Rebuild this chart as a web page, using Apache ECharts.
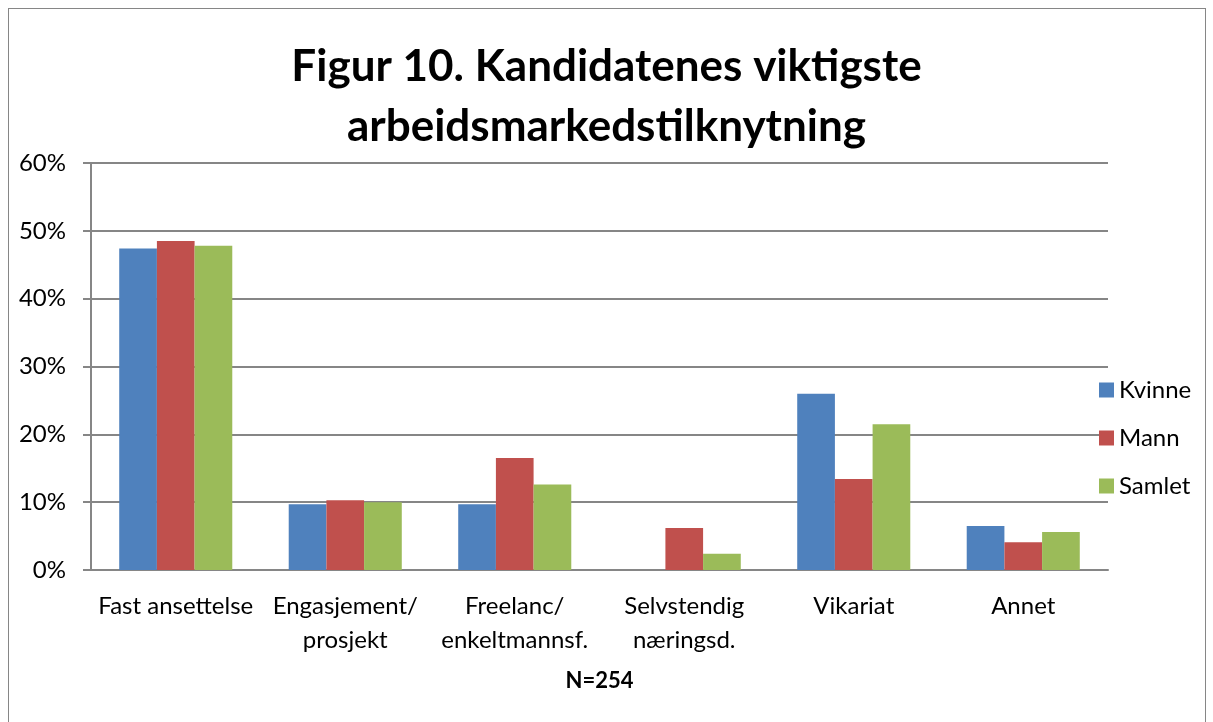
<!DOCTYPE html>
<html>
<head>
<meta charset="utf-8">
<script src="https://cdn.jsdelivr.net/npm/echarts@6/dist/echarts.min.js"></script>
<style>
  html, body { margin: 0; padding: 0; background: #fff; }
  .frame {
    position: absolute; left: 8px; top: 8px;
    width: 1196px; height: 740px;
    border: 1.5px solid #868686;
  }
  #chart { position: absolute; left: 0; top: 0; width: 1213px; height: 722px; }
</style>
</head>
<body>
<div class="frame"></div>
<div id="chart"></div>
<script>
const categories = ['Fast ansettelse', 'Engasjement/\nprosjekt', 'Freelanc/\nenkeltmannsf.', 'Selvstendig\nnæringsd.', 'Vikariat', 'Annet']
const kvinne = [47.4, 9.7, 9.7, 0, 26.0, 6.5]
const mann = [48.5, 10.3, 16.5, 6.2, 13.4, 4.1]
const samlet = [47.8, 10.0, 12.6, 2.4, 21.5, 5.6]
const yTicks = { min: 0, max: 60, interval: 10 }

const font = 'Lato, "Open Sans", sans-serif'
const chart = echarts.init(document.getElementById('chart'))

const bar = (name, data, color) => ({
  name: name,
  type: 'bar',
  data: data,
  barGap: 0,
  barCategoryGap: '33.3%',
  itemStyle: { color: color }
})

const option = {
  animation: false,
  textStyle: { fontFamily: font },
  title: {
    text: 'Figur 10. Kandidatenes viktigste\narbeidsmarkedstilknytning',
    left: 'center',
    top: 32,
    textStyle: {
      fontFamily: font,
      fontSize: 44,
      fontWeight: 'bold',
      color: '#000',
      lineHeight: 60
    }
  },
  legend: {
    orient: 'vertical',
    left: 1094,
    top: 373,
    itemWidth: 15,
    itemHeight: 15,
    itemGap: 24,
    icon: 'rect',
    textStyle: { fontSize: 24, color: '#000', fontFamily: font }
  },
  grid: {
    left: 91,
    right: 105,
    top: 163,
    bottom: 152
  },
  xAxis: {
    type: 'category',
    data: categories,
    name: 'N=254',
    nameLocation: 'middle',
    nameGap: 100,
    nameTextStyle: { fontSize: 22, fontWeight: 'bold', color: '#000', fontFamily: font },
    axisLine: { lineStyle: { color: '#868686', width: 2 } },
    axisTick: { show: false },
    axisLabel: {
      interval: 0,
      fontSize: 24,
      color: '#000',
      lineHeight: 34,
      margin: 19,
      fontFamily: font
    }
  },
  yAxis: {
    type: 'value',
    min: yTicks.min,
    max: yTicks.max,
    interval: yTicks.interval,
    axisLine: { show: true, lineStyle: { color: '#868686', width: 2 } },
    axisTick: { show: true, length: 8, lineStyle: { color: '#868686', width: 2 } },
    axisLabel: {
      formatter: '{value}%',
      fontSize: 24,
      color: '#000',
      margin: 25,
      fontFamily: font
    },
    splitLine: { lineStyle: { color: '#868686', width: 2 } }
  },
  series: [
    bar('Kvinne', kvinne, '#4F81BD'),
    bar('Mann', mann, '#C0504D'),
    bar('Samlet', samlet, '#9BBB59')
  ]
}
chart.setOption(option)
</script>
</body>
</html>
